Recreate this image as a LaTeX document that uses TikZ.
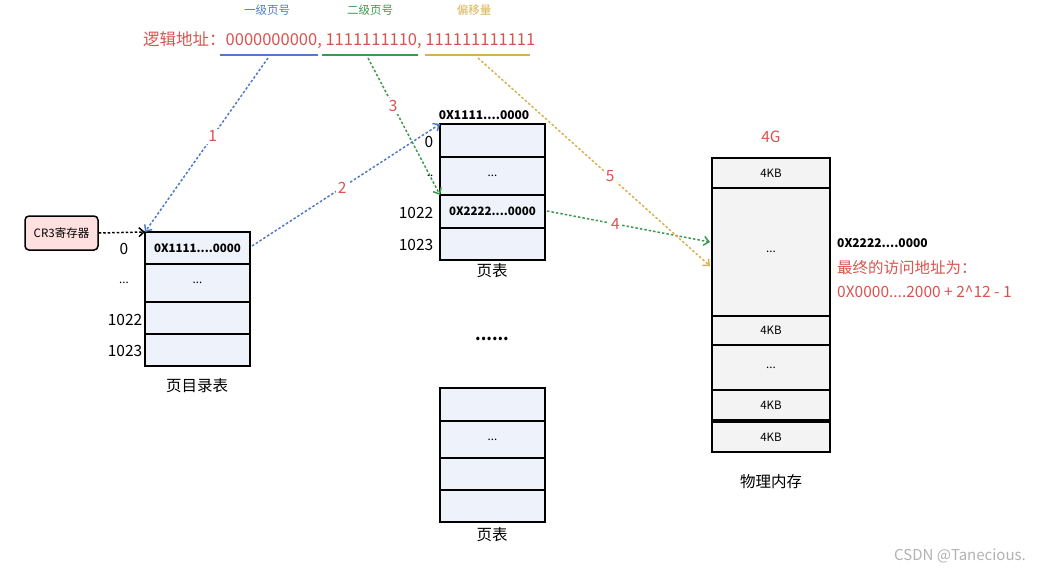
\documentclass[tikz,border=0pt]{standalone}
\usepackage{fontspec}
\setmainfont{Noto Sans CJK SC}
\usetikzlibrary{arrows.meta}
\definecolor{cb}{HTML}{4F7BC8}
\definecolor{cg}{HTML}{3C9A50}
\definecolor{co}{HTML}{D8B050}
\definecolor{cr}{HTML}{D9534F}
\definecolor{cell}{HTML}{EEF2FB}
\definecolor{mem}{HTML}{F3F3F3}
\begin{document}
\begin{tikzpicture}[x=1pt,y=-1pt,
  cellbox/.style={draw=black,line width=1.5pt,fill=cell},
  membox/.style={draw=black,line width=1.3pt,fill=mem},
  lbl/.style={font=\fontsize{15.5}{15.5}\selectfont},
  sm/.style={font=\fontsize{11.5}{11.5}\selectfont},
  bsm/.style={font=\bfseries\fontsize{12}{12}\selectfont},
  num/.style={font=\fontsize{15.5}{15.5}\selectfont,text=cr},
  arr/.style={dash pattern=on 2.5pt off 2pt,line width=1.5pt,-{Straight Barb[length=5pt,width=9pt]}}]
\useasboundingbox (0,0) rectangle (1057,574);
% top labels
\node[sm,text=cb] (t1) at (267,10) {一级页号};
\node[sm,text=cg] (t2) at (370,10) {二级页号};
\node[sm,text=co] (t3) at (474,10) {偏移量};
\node[font=\fontsize{16.5}{16.5}\selectfont,text=cr,anchor=west,inner sep=0pt] (addr) at (143,40) {逻辑地址：0000000000,\ 1111111110,\ 111111111111};
\draw[cb,line width=1.8pt] (220,55) -- (318,55);
\draw[cg,line width=1.8pt] (322,55) -- (418,55);
\draw[co,line width=1.8pt] (425,55) -- (530,55);
\coordinate (s1) at (268,58);
\coordinate (s2) at (368,58);
\coordinate (s3) at (478,58);
% CR3
\node[draw=black,line width=1.5pt,fill=red!12,rounded corners=4pt,minimum width=73pt,minimum height=34pt,sm] (cr3) at (61.5,233) {CR3寄存器};
% page directory
\foreach \n/\a/\b/\t in {d0/232/264/{\bfseries 0X1111....0000},d1/264/302/{...},d2/302/334/{},d3/334/366/{}}
  \draw[cellbox] (145,\a) rectangle node[sm] (\n) {\t} (250,\b);
\node[lbl] (l0) at (124,249) {0};
\node[sm] (l1) at (124,283) {...};
\node[lbl] (l2) at (125,320) {1022};
\node[lbl] (l3) at (125,351) {1023};
\node[lbl] (dt) at (197,386) {页目录表};
% page table 1
\node[bsm] (ph) at (484,115) {0X1111....0000};
\foreach \n/\a/\b/\t in {p0/124/157/{},p1/157/195/{...},p2/195/228/{\bfseries 0X2222....0000},p3/228/260/{}}
  \draw[cellbox] (440,\a) rectangle node[sm] (\n) {\t} (545,\b);
\node[lbl] (m0) at (429,142) {0};
\node[sm] (m1) at (430,176) {..};
\node[lbl] (m2) at (416,213) {1022};
\node[lbl] (m3) at (416,245) {1023};
\node[lbl] (pt1) at (492,271) {页表};
\node[font=\bfseries\fontsize{16}{16}\selectfont] (dots) at (492,339) {......};
% page table 2
\foreach \n/\a/\b/\t in {q0/388/421/{},q1/421/458/{...},q2/458/490/{},q3/490/522/{}}
  \draw[cellbox] (440,\a) rectangle node[sm] (\n) {\t} (545,\b);
\node[lbl] (pt2) at (492,535) {页表};
% memory
\foreach \n/\a/\b/\t in {r0/158/188/4KB,r1/188/316/{...},r2/316/345/4KB,r3/345/390/{...},r4/390/420/4KB,r5/422/452/4KB}
  \draw[membox] (712,\a) rectangle node[sm] (\n) {\t} (830,\b);
\node[lbl] (mt) at (771,482) {物理内存};
\node[num] (g4) at (771,137) {4G};
\node[bsm,anchor=west,inner sep=0pt] (x1) at (837,243) {0X2222....0000};
\node[lbl,text=cr,anchor=west,inner sep=0pt] (x2) at (837,268) {最终的访问地址为：};
\node[lbl,text=cr,anchor=west,inner sep=0pt] (x3) at (837,292) {0X0000....2000 + 2\^{}12 - 1};
% arrows
\coordinate (e1) at (145,232);
\coordinate (e2) at (440,124);
\coordinate (e3) at (440,195);
\coordinate (e4) at (710,242);
\coordinate (e5) at (710,266);
\coordinate (b2) at (252,246);
\coordinate (b4) at (547,211);
\draw[arr,black] (cr3.east) -- (e1);
\draw[arr,cb] (s1) -- node[num,fill=white,inner sep=2pt,pos=0.45] {1} (e1);
\draw[arr,cb] (b2) -- node[num,fill=white,inner sep=2pt,pos=0.48] {2} (e2);
\draw[arr,cg] (s2) -- node[num,fill=white,inner sep=2pt,pos=0.35] {3} (e3);
\draw[arr,cg] (b4) -- node[num,fill=white,inner sep=2pt,pos=0.42] {4} (e4);
\draw[arr,co] (s3) -- node[num,fill=white,inner sep=2pt,pos=0.57] {5} (e5);
\node[font=\fontsize{15}{15}\selectfont,text=gray!60] (wm) at (960,556) {CSDN @Tanecious.};
\end{tikzpicture}
\end{document}
